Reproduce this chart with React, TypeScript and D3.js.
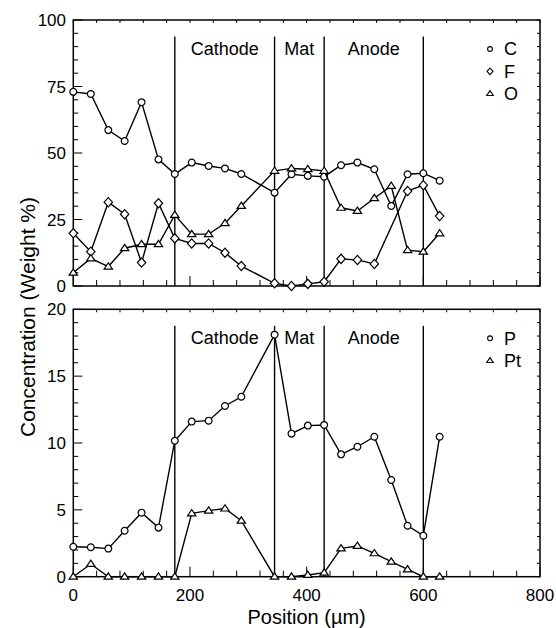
import * as d3 from "d3";

// positions (µm) and weight %
const cPos = [0, 30, 60, 88, 117, 146, 174, 203, 232, 260, 288, 345, 374, 402, 430, 459, 487, 516, 545, 573, 600, 628];
const cVal = [73, 72.2, 58.6, 54.5, 69.1, 47.6, 42.1, 46.4, 45.1, 44.2, 42.1, 35.1, 42.0, 41.4, 41.1, 45.4, 46.4, 43.9, 30.1, 42.0, 42.4, 39.6];

const fPos = [0, 30, 60, 88, 117, 146, 174, 203, 232, 260, 288, 345, 374, 402, 430, 459, 487, 516, 573, 600, 628];
const fVal = [19.8, 12.9, 31.5, 27.0, 8.8, 31.1, 17.9, 16.0, 16.0, 12.5, 7.5, 1.0, 0, 0.8, 1.6, 10.2, 9.8, 8.3, 35.7, 37.9, 26.3];

const oPos = cPos;
const oVal = [5.0, 10.4, 7.3, 14.2, 15.7, 15.7, 26.7, 19.5, 19.5, 23.6, 30.1, 43.3, 44.2, 43.9, 43.3, 29.4, 28.2, 33.0, 37.6, 13.5, 12.9, 19.8];

const pPos = cPos;
const pVal = [2.24, 2.2, 2.1, 3.44, 4.79, 3.67, 10.17, 11.6, 11.67, 12.77, 13.46, 18.1, 10.7, 11.3, 11.35, 9.15, 9.72, 10.47, 7.23, 3.81, 3.07, 10.47];

const ptPos = cPos;
const ptVal = [0, 0.95, 0, 0, 0, 0, 0, 4.74, 4.94, 5.1, 4.19, 0, 0, 0.13, 0.3, 2.12, 2.3, 1.75, 1.12, 0.55, 0, 0];

const boundaries = [174, 345, 430, 600];
const regions = ["Cathode", "Mat", "Anode"];

const FONT = "'Liberation Sans', Arial, Helvetica, sans-serif";

const x = d3.scaleLinear().domain([0, 800]).range([73.3, 540]);
const yTop = d3.scaleLinear().domain([0, 100]).range([286, 20]);
const yBot = d3.scaleLinear().domain([0, 20]).range([576.7, 309.3]);

const circle = (r: number) => d3.symbol(d3.symbolCircle, Math.PI * r * r)();
const diamond = (h: number) => `M0,${-h * 1.1}L${h},0L0,${h * 1.1}L${-h},0Z`;
const triangle = (h: number) => `M0,${-h}L${h * 1.1},${h * 0.65}L${-h * 1.1},${h * 0.65}Z`;

type Series = { pos: number[]; val: number[]; marker: string; legend: string; label: string };

function Panel({ y, series, major, minor, labelY }: {
  y: d3.ScaleLinear<number, number>;
  series: Series[];
  major: number;
  minor: number;
  labelY: number;
}) {
  const [y0, y1] = y.domain();
  const [x0, x1] = x.range();
  const top = y.range()[1];
  const bottom = y.range()[0];
  const line = d3.line<[number, number]>().x((d) => x(d[0])).y((d) => y(d[1]));
  const yTicks = d3.range(y0, y1 + 0.001, minor);
  const xTicks = d3.range(0, 801, 40);
  const lineTop = top + 16.5;
  const isMajor = (t: number) => Math.abs(t / major - Math.round(t / major)) < 1e-6;

  return (
    <g>
      {/* ticks */}
      {yTicks.map((t) => (
        <g key={"y" + t} stroke="#000" strokeWidth={1}>
          <line x1={x0} x2={x0 + (isMajor(t) ? 9 : 5)} y1={y(t)} y2={y(t)} />
          <line x1={x1} x2={x1 - 3} y1={y(t)} y2={y(t)} />
        </g>
      ))}
      {yTicks.filter(isMajor).map((t) => (
        <text key={"yl" + t} x={66} y={y(t)} dy="0.36em" textAnchor="end" fontSize={17} fontFamily={FONT}>
          {t}
        </text>
      ))}
      {xTicks.map((t) => (
        <g key={"x" + t} stroke="#000" strokeWidth={1}>
          <line x1={x(t)} x2={x(t)} y1={bottom} y2={bottom - (t % 200 === 0 ? 10 : 6)} />
          <line x1={x(t)} x2={x(t)} y1={top} y2={top + 3} />
        </g>
      ))}
      <rect x={x0} y={top} width={x1 - x0} height={bottom - top} fill="none" stroke="#000" strokeWidth={1.5} />

      {/* region boundaries */}
      {boundaries.map((b) => (
        <line key={"b" + b} x1={x(b)} x2={x(b)} y1={lineTop} y2={bottom} stroke="#000" strokeWidth={1.4} />
      ))}
      {regions.map((r, i) => (
        <text
          key={r}
          x={(x(boundaries[i]) + x(boundaries[i + 1])) / 2}
          y={labelY}
          textAnchor="middle"
          fontSize={18}
          fontFamily={FONT}
        >
          {r}
        </text>
      ))}

      {/* data */}
      {series.map((s) => {
        const pts = s.pos.map((p, i) => [p, s.val[i]] as [number, number]);
        return (
          <g key={s.label}>
            <path d={line(pts) || ""} fill="none" stroke="#000" strokeWidth={1.4} />
            {pts.map((d, i) => (
              <path
                key={i}
                d={s.marker}
                transform={`translate(${x(d[0])},${y(d[1])})`}
                fill="#fff"
                stroke="#000"
                strokeWidth={1.2}
              />
            ))}
          </g>
        );
      })}

      {/* legend */}
      {series.map((s, i) => (
        <g key={"lg" + s.label} transform={`translate(490,${top + 29 + i * 22.3})`}>
          <path d={s.legend} fill="#fff" stroke="#000" strokeWidth={1.1} />
          <text x={14} dy="0.36em" fontSize={18} fontFamily={FONT}>
            {s.label}
          </text>
        </g>
      ))}
    </g>
  );
}

export default function App() {
  const topSeries: Series[] = [
    { pos: cPos, val: cVal, marker: circle(3.4), legend: circle(2.4), label: "C" },
    { pos: fPos, val: fVal, marker: diamond(4.2), legend: diamond(3), label: "F" },
    { pos: oPos, val: oVal, marker: triangle(3.8), legend: triangle(3), label: "O" },
  ];
  const botSeries: Series[] = [
    { pos: pPos, val: pVal, marker: circle(3.4), legend: circle(2.4), label: "P" },
    { pos: ptPos, val: ptVal, marker: triangle(3.8), legend: triangle(3), label: "Pt" },
  ];
  const [x0, x1] = x.range();

  return (
    <svg
      width={556}
      height={628}
      style={{ position: "absolute", left: 0, top: 0, background: "#fff" }}
    >
      <Panel y={yTop} series={topSeries} major={25} minor={5} labelY={55} />
      <Panel y={yBot} series={botSeries} major={5} minor={1} labelY={344} />

      {[0, 200, 400, 600, 800].map((t) => (
        <text key={t} x={x(t)} y={601} textAnchor="middle" fontSize={17} fontFamily={FONT}>
          {t}
        </text>
      ))}
      <text x={(x0 + x1) / 2} y={624} textAnchor="middle" fontSize={20} fontFamily={FONT}>
        Position (µm)
      </text>
      <text
        transform="translate(35,317) rotate(-90)"
        textAnchor="middle"
        fontSize={21}
        fontFamily={FONT}
      >
        Concentration (Weight %)
      </text>
    </svg>
  );
}
